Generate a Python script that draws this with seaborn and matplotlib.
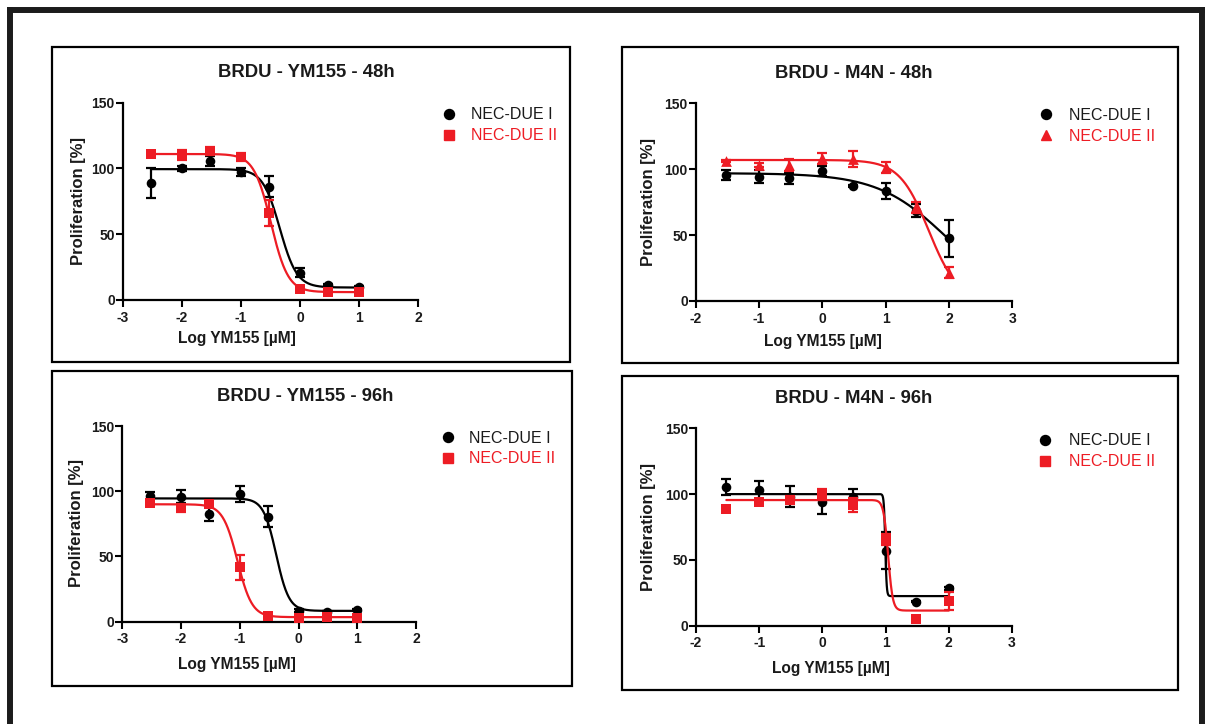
import numpy as np
import matplotlib
matplotlib.use("Agg")
import matplotlib.pyplot as plt
import seaborn as sns
from matplotlib.lines import Line2D
from matplotlib.patches import Rectangle

# ------------------------------------------------------------------ data
dose_ym155 = [-2.52, -2.0, -1.52, -1.0, -0.52, 0.0, 0.48, 1.0]
dose_m4n = [-1.52, -1.0, -0.52, 0.0, 0.48, 1.0, 1.48, 2.0]

# BRDU - YM155 - 48h
ym48_due1 = [89.2, 100.1, 105.6, 97.5, 86.1, 20.8, 11.4, 9.6]
ym48_due1_err = [11.4, 2.0, 4.0, 3.0, 8.0, 3.5, 0.8, 0.8]
ym48_due2 = [110.7, 110.2, 113.2, 108.4, 65.9, 8.1, 6.3, 6.3]
ym48_due2_err = [1.0, 4.0, 3.0, 3.0, 10.0, 1.0, 1.0, 1.0]
ym48_fit_due1 = [99.5, 9.5, -0.34, 3.0]      # top, bottom, logIC50, hill
ym48_fit_due2 = [111.0, 6.0, -0.49, 3.0]

# BRDU - M4N - 48h
m4n48_due1 = [95.6, 94.4, 93.1, 98.7, 87.3, 83.7, 68.6, 47.6]
m4n48_due1_err = [3.5, 5.0, 4.0, 4.0, 1.0, 6.0, 5.0, 14.0]
m4n48_due2 = [106.2, 103.2, 103.2, 108.3, 107.8, 101.4, 71.1, 21.5]
m4n48_due2_err = [0.5, 1.5, 4.5, 4.0, 6.0, 4.0, 4.0, 4.0]
m4n48_fit_due1 = [97.0, 0.0, 1.96, 0.8]
m4n48_fit_due2 = [107.0, 0.0, 1.68, 1.88]

# BRDU - YM155 - 96h
ym96_due1 = [96.6, 95.8, 82.5, 97.9, 80.5, 8.4, 7.2, 8.9]
ym96_due1_err = [3.0, 5.0, 5.5, 6.0, 8.0, 1.0, 0.8, 0.8]
ym96_due2 = [91.2, 86.9, 90.2, 41.7, 4.3, 2.6, 3.3, 2.6]
ym96_due2_err = [2.0, 3.0, 1.0, 9.5, 1.0, 0.8, 0.8, 0.8]
ym96_fit_due1 = [94.5, 8.3, -0.38, 4.0]
ym96_fit_due2 = [90.0, 3.5, -1.04, 3.5]

# BRDU - M4N - 96h
m4n96_due1 = [105.1, 103.1, 98.0, 94.2, 97.5, 57.0, 18.2, 28.4]
m4n96_due1_err = [6.0, 7.0, 8.0, 9.0, 6.0, 14.0, 0.5, 1.0]
m4n96_due2 = [88.7, 94.2, 95.5, 100.0, 91.7, 65.6, 4.8, 18.7]
m4n96_due2_err = [0.5, 2.0, 3.0, 4.0, 5.0, 4.0, 0.5, 7.0]
m4n96_fit_due1 = [100.0, 22.5, 0.995, 40.0]
m4n96_fit_due2 = [95.5, 11.5, 1.04, 12.0]

titles = ["BRDU - YM155 - 48h", "BRDU - M4N - 48h",
          "BRDU - YM155 - 96h", "BRDU - M4N - 96h"]
series_labels = ["NEC-DUE I", "NEC-DUE II"]
x_label = "Log YM155 [µM]"
y_label = "Proliferation [%]"
xticks_ym155 = [-3, -2, -1, 0, 1, 2]
xticks_m4n = [-2, -1, 0, 1, 2, 3]
yticks = [0, 50, 100, 150]

# ------------------------------------------------------------------ style
sns.set_style("ticks")
plt.rcParams["font.family"] = ["Liberation Sans", "DejaVu Sans"]
plt.rcParams["axes.unicode_minus"] = False

W, H = 1206, 724
BLACK = "#000000"
RED = "#ED1C24"

fig = plt.figure(figsize=(W / 100, H / 100), dpi=100)
fig.patch.set_facecolor("white")


def fx(px):
    return px / W


def fy(py):
    return 1 - py / H


def four_pl(x, top, bottom, logic50, hill):
    return bottom + (top - bottom) / (1 + 10 ** ((x - logic50) * hill))


# outer frame (open at the bottom)
for xs_, ys_ in [([9.8, 9.8], [740, 9.5]), ([9.8, 1201.5], [9.5, 9.5]),
                 ([1201.5, 1201.5], [9.5, 740])]:
    fig.add_artist(Line2D([fx(v) for v in xs_], [fy(v) for v in ys_],
                          color="#1c1c1c", lw=4.3, solid_capstyle="projecting"))

# panel boxes: left, top, right, bottom (px)
boxes = [(52, 47.3, 569.5, 362), (621.5, 47.3, 1178, 363),
         (51.5, 371.5, 571.5, 685.5), (621.5, 375.5, 1178, 690)]
for l, t, r, b in boxes:
    fig.add_artist(Rectangle((fx(l), fy(b)), fx(r) - fx(l), fy(t) - fy(b),
                             transform=fig.transFigure, fill=False,
                             edgecolor=BLACK, lw=1.6))

panels = [
    dict(rect=(122.7, 418, 102.7, 300), dose=dose_ym155, xticks=xticks_ym155,
         s1=(ym48_due1, ym48_due1_err, ym48_fit_due1),
         s2=(ym48_due2, ym48_due2_err, ym48_fit_due2), m2="s",
         title=(306.5, 72.7), xlab=(237, 339), ylab=(78, 201),
         leg=(448.7, 116.7, 471.3)),
    dict(rect=(695.7, 1012.3, 103.3, 301), dose=dose_m4n, xticks=xticks_m4n,
         s1=(m4n48_due1, m4n48_due1_err, m4n48_fit_due1),
         s2=(m4n48_due2, m4n48_due2_err, m4n48_fit_due2), m2="^",
         title=(853.7, 73.3), xlab=(822.5, 341.7), ylab=(648, 201.7),
         leg=(1045.7, 117.3, 1069.3)),
    dict(rect=(122.3, 416, 426, 621.7), dose=dose_ym155, xticks=xticks_ym155,
         s1=(ym96_due1, ym96_due1_err, ym96_fit_due1),
         s2=(ym96_due2, ym96_due2_err, ym96_fit_due2), m2="s",
         title=(305.4, 396), xlab=(237, 664), ylab=(77, 523),
         leg=(447.7, 440, 469.4)),
    dict(rect=(696, 1012, 428.3, 625.7), dose=dose_m4n, xticks=xticks_m4n,
         s1=(m4n96_due1, m4n96_due1_err, m4n96_fit_due1),
         s2=(m4n96_due2, m4n96_due2_err, m4n96_fit_due2), m2="s",
         title=(854, 399), xlab=(830.7, 669), ylab=(648, 526.7),
         leg=(1045, 442.7, 1069.3)),
]

for i, p in enumerate(panels):
    x0, x1, yt, yb = p["rect"]
    ax = fig.add_axes([fx(x0), fy(yb), fx(x1) - fx(x0), fy(yt) - fy(yb)])
    ax.set_facecolor("none")
    dose = np.array(p["dose"])
    for (vals, err, fit), col, mk, sz, z in [
            (p["s1"], BLACK, "o", 48, 3),
            (p["s2"], RED, p["m2"], 46 if p["m2"] == "s" else 60, 4)]:
        xs = np.linspace(dose.min(), dose.max(), 600)
        ys = four_pl(xs, *fit)
        sns.lineplot(x=xs, y=ys, ax=ax, color=col, lw=1.6, sort=False,
                     estimator=None, zorder=z)
        ax.errorbar(dose, vals, yerr=err, fmt="none", ecolor=col,
                    elinewidth=1.6, capsize=3.8, capthick=1.6, zorder=z)
        sns.scatterplot(x=dose, y=vals, ax=ax, marker=mk, s=sz, color=col,
                        edgecolor=col, linewidth=0, zorder=z + 0.5)
    ax.set_xlim(p["xticks"][0], p["xticks"][-1])
    ax.set_ylim(0, 150)
    ax.set_xticks(p["xticks"], labels=[str(t) for t in p["xticks"]],
                  fontweight="bold")
    ax.set_yticks(yticks, labels=[str(t) for t in yticks], fontweight="bold")
    ax.tick_params(axis="both", labelsize=10, width=1.5, length=4.7,
                   direction="out", color=BLACK, labelcolor="#1a1a1a")
    ax.tick_params(axis="y", pad=1)
    ax.tick_params(axis="x", pad=3)
    for sp in ["top", "right"]:
        ax.spines[sp].set_visible(False)
    for sp in ["left", "bottom"]:
        ax.spines[sp].set_linewidth(1.6)
        ax.spines[sp].set_color(BLACK)
    ax.set_xlabel("")
    ax.set_ylabel("")
    if ax.get_legend():
        ax.get_legend().remove()

    # texts
    fig.text(fx(p["title"][0]), fy(p["title"][1]), titles[i], ha="center",
             va="center", fontsize=13.3, fontweight="bold", color="#1a1a1a")
    fig.text(fx(p["xlab"][0]), fy(p["xlab"][1]), x_label, ha="center",
             va="center", fontsize=11.2, fontweight="bold", color="#1a1a1a")
    fig.text(fx(p["ylab"][0]), fy(p["ylab"][1]), y_label, ha="center",
             va="center", rotation=90, fontsize=12, fontweight="bold",
             color="#1a1a1a")

    # legend
    mx, my, tx = p["leg"]
    handles = [Line2D([], [], marker="o", ls="none", color=BLACK,
                      markersize=7.2),
               Line2D([], [], marker=p["m2"], ls="none", color=RED,
                      markersize=7.2)]
    fs = 11.5
    fpx = fs * 100 / 72
    hl = 1.0
    leg = ax.legend(handles=handles, labels=series_labels, loc="upper left",
                    bbox_to_anchor=(fx(mx - hl * fpx / 2), fy(my - 9.3)),
                    bbox_transform=fig.transFigure, frameon=False,
                    fontsize=fs, handlelength=hl,
                    handletextpad=(tx - (mx + hl * fpx / 2)) / fpx,
                    labelspacing=0.36, borderpad=0, borderaxespad=0,
                    labelcolor=["#1a1a1a", RED])

fig.savefig("out.png", dpi=100, facecolor="white")
